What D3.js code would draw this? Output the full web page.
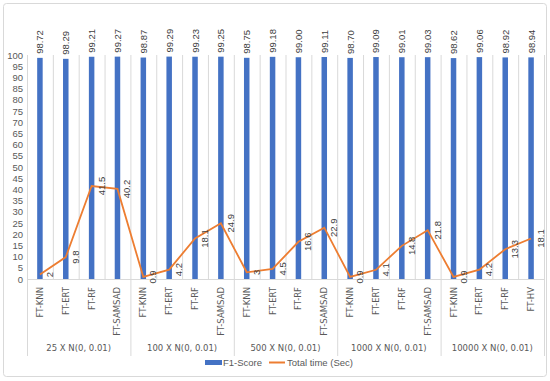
<!DOCTYPE html>
<html><head><meta charset="utf-8">
<script src="https://cdn.jsdelivr.net/npm/d3@7"></script>
<style>body{margin:0;background:#fff}svg{display:block}</style>
</head><body>
<svg id="c" width="550" height="381"></svg>
<script>
const groups = ["25 X N(0, 0.01)","100 X N(0, 0.01)","500 X N(0, 0.01)","1000 X N(0, 0.01)","10000 X N(0, 0.01)"];
const models = [
  ["FT-KNN","FT-ERT","FT-RF","FT-SAMSAD"],
  ["FT-KNN","FT-ERT","FT-RF","FT-SAMSAD"],
  ["FT-KNN","FT-ERT","FT-RF","FT-SAMSAD"],
  ["FT-KNN","FT-ERT","FT-RF","FT-SAMSAD"],
  ["FT-KNN","FT-ERT","FT-RF","FT-HV"]
];
const f1Score = [98.72,98.29,99.21,99.27, 98.87,99.29,99.23,99.25, 98.75,99.18,99.00,99.11, 98.70,99.09,99.01,99.03, 98.62,99.06,98.92,98.94];
const totalTime = [2,9.8,41.5,40.2, 0.9,4.2,18.1,24.9, 3,4.5,16.6,22.9, 0.9,4.1,14.8,21.8, 0.9,4.2,13.3,18.1];
const yTicks = d3.range(0,101,5);
const seriesNames = ["F1-Score","Total time (Sec)"];

const rows = [];
groups.forEach((g,gi)=>models[gi].forEach((m,mi)=>rows.push({key:gi+"|"+mi, group:g, model:m})));
rows.forEach((r,i)=>{r.f1=f1Score[i]; r.t=totalTime[i];});

const svg = d3.select("#c");
const blue = "#4472C4", orange = "#ED7D31", grid = "#D9D9D9", txt = "#595959";
const X0 = 27, X1 = 544, Y0 = 279, Y1 = 55;
const x = d3.scaleBand().domain(rows.map(r=>r.key)).range([X0,X1]).padding(0);
const y = d3.scaleLinear().domain([0,100]).range([Y0,Y1]);
const bw = x.bandwidth();

svg.append("rect").attr("x",3.5).attr("y",3.5).attr("width",543).attr("height",373)
  .attr("rx",3).attr("fill","#fff").attr("stroke",grid);

// vertical gridlines between categories
const g0 = svg.append("g");
rows.forEach((r,i)=>{
  if(i>0) g0.append("line").attr("x1",x(r.key)+0.5).attr("x2",x(r.key)+0.5)
    .attr("y1",Y1).attr("y2",Y0).attr("stroke",grid).attr("stroke-width",1);
});
g0.append("line").attr("x1",X1+0.5).attr("x2",X1+0.5).attr("y1",Y1).attr("y2",Y0).attr("stroke",grid);
g0.append("line").attr("x1",X0).attr("x2",X1).attr("y1",Y0+0.5).attr("y2",Y0+0.5).attr("stroke",grid);
// group separators
for(let k=0;k<=groups.length;k++){
  const xx = k<groups.length ? x(groups.length && (k+"|0")) : X1;
  g0.append("line").attr("x1",xx+0.5).attr("x2",xx+0.5).attr("y1",k===0?Y0:Y0).attr("y2",356).attr("stroke",grid);
}
g0.append("line").attr("x1",X0+0.5).attr("x2",X0+0.5).attr("y1",Y1).attr("y2",Y0).attr("stroke",grid);

// y axis
const ya = svg.append("g").attr("transform",`translate(${X0},0)`)
  .call(d3.axisLeft(y).tickValues(yTicks).tickSize(0).tickPadding(4));
ya.select(".domain").remove();
ya.selectAll("text").attr("fill",txt).style("font-family","Liberation Sans, Arial, sans-serif").style("font-size","9.5px");

// bars
const bwBar = 5.5;
svg.append("g").selectAll("rect").data(rows).join("rect")
  .attr("x",d=>x(d.key)+bw/2-bwBar/2).attr("width",bwBar)
  .attr("y",d=>y(d.f1)).attr("height",d=>Y0-y(d.f1)).attr("fill",blue);

// bar labels
svg.append("g").selectAll("text").data(rows).join("text")
  .attr("transform",d=>`translate(${x(d.key)+bw/2+3.5},${y(d.f1)-4}) rotate(-90)`)
  .attr("text-anchor","start").attr("fill","#404040")
  .style("font-family","Liberation Sans, Arial, sans-serif").style("font-size","9.5px")
  .text(d=>d.f1.toFixed(2));

// line
const line = d3.line().x(d=>x(d.key)+bw/2).y(d=>y(d.t));
svg.append("path").datum(rows).attr("d",line).attr("fill","none").attr("stroke",orange).attr("stroke-width",1.8);

// line labels
svg.append("g").selectAll("text").data(rows).join("text")
  .attr("transform",d=>`translate(${x(d.key)+bw/2+13},${y(d.t)}) rotate(-90)`)
  .attr("text-anchor","middle").attr("fill","#404040")
  .style("font-family","Liberation Sans, Arial, sans-serif").style("font-size","9.5px")
  .text(d=>String(d.t));

// category labels
svg.append("g").selectAll("text").data(rows).join("text")
  .attr("transform",d=>`translate(${x(d.key)+bw/2+3},287) rotate(-90)`)
  .attr("text-anchor","end").attr("fill",txt)
  .style("font-family","DejaVu Sans, sans-serif").style("font-size","8.5px")
  .text(d=>d.model);

// group labels
svg.append("g").selectAll("text").data(groups).join("text")
  .attr("x",(g,gi)=>(x(gi+"|0")+x(gi+"|3")+bw)/2).attr("y",351)
  .attr("text-anchor","middle").attr("fill",txt)
  .style("font-family","DejaVu Sans, sans-serif").style("font-size","8.5px")
  .text(g=>g);

// legend
const lg = svg.append("g").style("font-family","Liberation Sans, Arial, sans-serif").style("font-size","9.5px");
lg.append("rect").attr("x",205).attr("y",360).attr("width",17).attr("height",5).attr("fill",blue);
lg.append("text").attr("x",223).attr("y",366).attr("fill",txt).text(seriesNames[0]);
lg.append("line").attr("x1",269).attr("x2",285).attr("y1",362.5).attr("y2",362.5).attr("stroke",orange).attr("stroke-width",2);
lg.append("text").attr("x",287).attr("y",366).attr("fill",txt).text(seriesNames[1]);
</script>
</body></html>
